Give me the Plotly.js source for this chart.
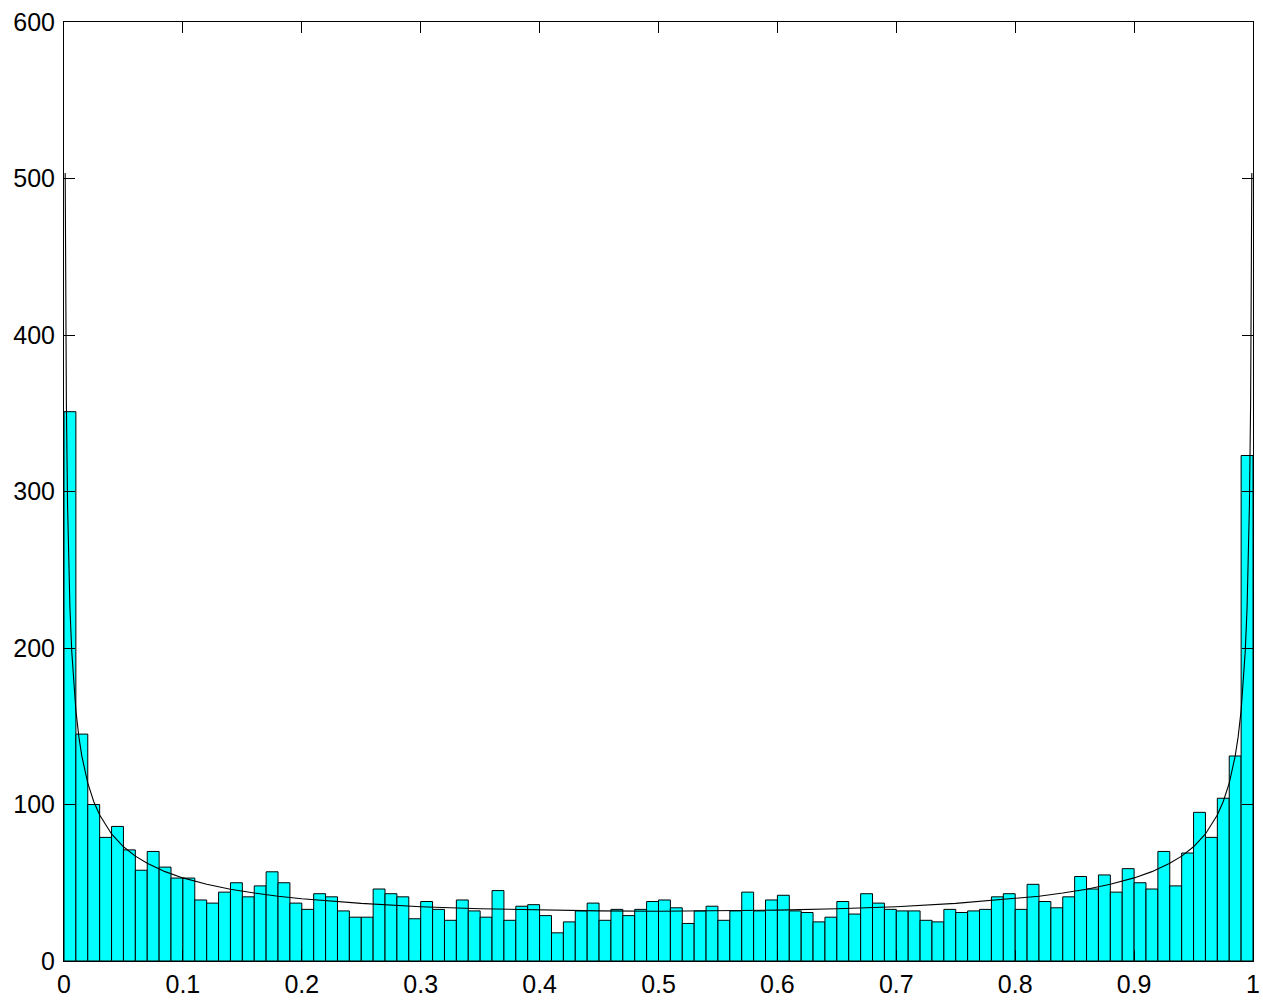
<!DOCTYPE html>
<html>
<head>
<meta charset="utf-8">
<script src="https://cdn.plot.ly/plotly-3.0.1.min.js"></script>
<style>html,body{margin:0;padding:0;background:#fff;}#chart{width:1263px;height:1000px;}</style>
</head>
<body>
<div id="chart"></div>
<script>
// Histogram counts, 100 bins over [0, 1]
const binStart = 0;
const binWidth = 0.01;
const counts = [
  351, 145, 100, 79, 86, 71, 58, 70, 60, 53,
  53, 39, 37, 44, 50, 41, 48, 57, 50, 37,
  33, 43, 41, 32, 28, 28, 46, 43, 41, 27,
  38, 33, 26, 39, 32, 28, 45, 26, 35, 36,
  29, 18, 25, 32, 37, 26, 33, 29, 33, 38,
  39, 34, 24, 32, 35, 26, 32, 44, 32, 39,
  42, 32, 31, 25, 28, 38, 30, 43, 37, 33,
  32, 32, 26, 25, 33, 31, 32, 33, 41, 43,
  33, 49, 38, 34, 41, 54, 46, 55, 44, 59,
  50, 46, 70, 48, 69, 95, 79, 104, 131, 323
];

// Fitted density curve
const curveX = [
  0.001, 0.0015, 0.002, 0.003, 0.004, 0.005, 0.0065, 0.008, 0.01, 0.0125,
  0.015, 0.02, 0.025, 0.03, 0.04, 0.05, 0.06, 0.07, 0.085, 0.1,
  0.12, 0.14, 0.16, 0.18, 0.2, 0.25, 0.3, 0.35, 0.4, 0.45,
  0.5,
  0.55, 0.6, 0.65, 0.7, 0.75, 0.8, 0.82, 0.84, 0.86, 0.88,
  0.9, 0.915, 0.93, 0.94, 0.95, 0.96, 0.97, 0.975, 0.98, 0.985,
  0.9875, 0.99, 0.992, 0.9935, 0.995, 0.996, 0.997, 0.998, 0.9985, 0.999
];
const curveY = [
  503.5, 411.2, 356.2, 291.0, 252.1, 225.6, 198.0, 178.7, 160.0, 143.2,
  130.9, 113.7, 101.9, 93.3, 81.2, 73.0, 67.0, 62.4, 57.1, 53.1,
  49.0, 45.9, 43.4, 41.4, 39.8, 36.8, 34.7, 33.4, 32.5, 32.0,
  31.8,
  32.0, 32.5, 33.4, 34.7, 36.8, 39.8, 41.4, 43.4, 45.9, 49.0,
  53.1, 57.1, 62.4, 67.0, 73.0, 81.2, 93.3, 101.9, 113.7, 130.9,
  143.2, 160.0, 178.7, 198.0, 225.6, 252.1, 291.0, 356.2, 411.2, 503.5
];

const xTickVals = [0, 0.1, 0.2, 0.3, 0.4, 0.5, 0.6, 0.7, 0.8, 0.9, 1];
const xTickText = ["0", "0.1", "0.2", "0.3", "0.4", "0.5", "0.6", "0.7", "0.8", "0.9", "1"];
const yTickVals = [0, 100, 200, 300, 400, 500, 600];
const yTickText = ["0", "100", "200", "300", "400", "500", "600"];

const binCenters = counts.map((c, i) => binStart + binWidth * (i + 0.5));

const bars = {
  type: 'bar',
  x: binCenters,
  y: counts,
  width: binWidth,
  marker: { color: '#00ffff', line: { color: '#000000', width: 1 } },
  hoverinfo: 'x+y',
  showlegend: false
};

const curve = {
  type: 'scatter',
  mode: 'lines',
  x: curveX,
  y: curveY,
  line: { color: '#000000', width: 1.1 },
  showlegend: false
};

const font = { family: 'Liberation Sans, Arial, Helvetica, sans-serif', size: 25, color: '#000000' };

const layout = {
  width: 1263,
  height: 1000,
  margin: { l: 64, r: 10, t: 22, b: 39 },
  paper_bgcolor: '#ffffff',
  plot_bgcolor: '#ffffff',
  font: font,
  bargap: 0,
  showlegend: false,
  xaxis: {
    range: [0, 1],
    tickmode: 'array',
    tickvals: xTickVals,
    ticktext: xTickText,
    ticks: 'inside',
    ticklen: 11,
    tickwidth: 1,
    tickcolor: '#000000',
    ticklabelstandoff: 1,
    showline: true,
    linecolor: '#000000',
    linewidth: 1,
    mirror: 'ticks',
    showgrid: false,
    zeroline: false,
    tickfont: font
  },
  yaxis: {
    range: [0, 600],
    tickmode: 'array',
    tickvals: yTickVals,
    ticktext: yTickText,
    ticks: 'inside',
    ticklen: 11,
    tickwidth: 1,
    tickcolor: '#000000',
    ticklabelstandoff: 3,
    showline: true,
    linecolor: '#000000',
    linewidth: 1,
    mirror: 'ticks',
    showgrid: false,
    zeroline: false,
    tickfont: font
  }
};

Plotly.newPlot('chart', [bars, curve], layout, { staticPlot: true, displayModeBar: false });
</script>
</body>
</html>
